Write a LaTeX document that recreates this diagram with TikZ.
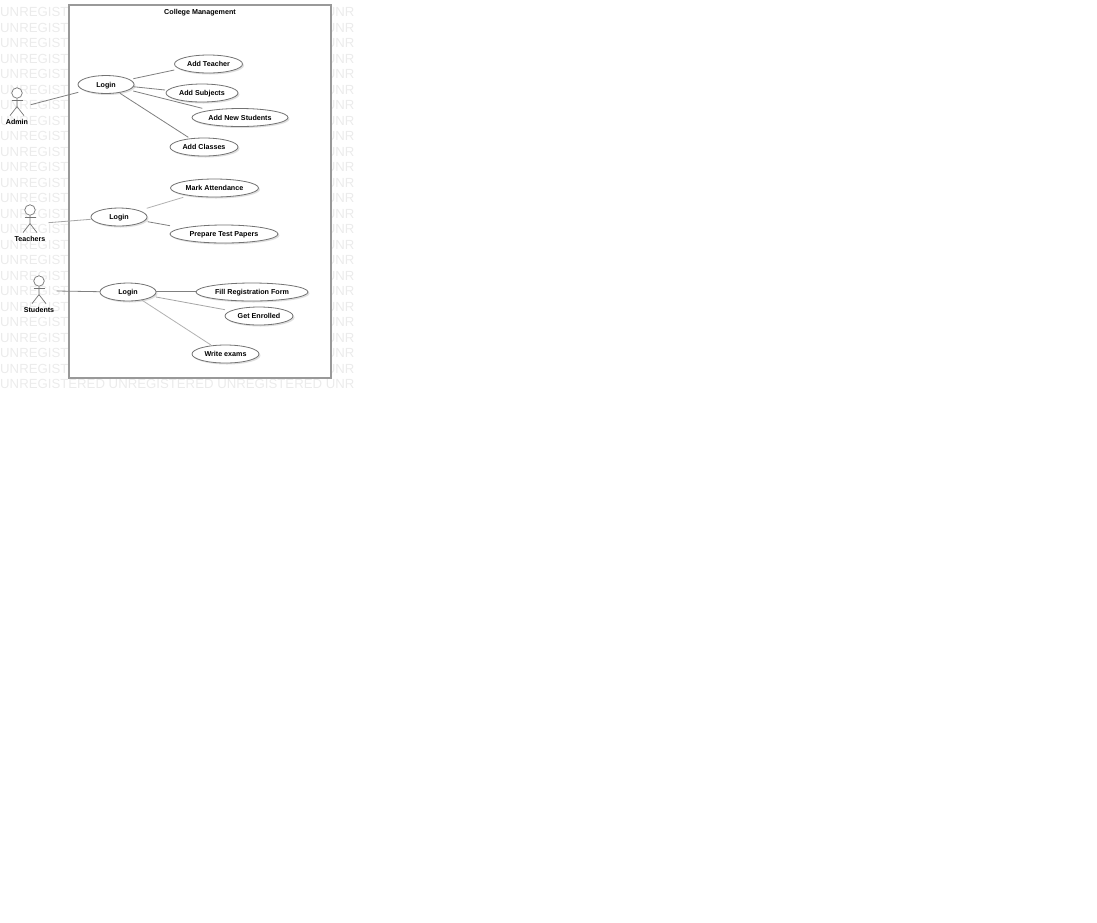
\documentclass[tikz,border=0pt]{standalone}
\usepackage{fontspec}
\setmainfont{Liberation Sans}
\usetikzlibrary{positioning,calc}
\usetikzlibrary{shapes.geometric,shadows}
\tikzset{
  usecase/.style={ellipse,draw=black!55,line width=0.8pt,fill=white,inner sep=0pt,minimum height=18pt,text height=5.2pt,text depth=0pt,font=\fontsize{7.15pt}{9pt}\selectfont\bfseries,drop shadow={shadow xshift=1.5pt,shadow yshift=-1.5pt,opacity=0.25}},
  actorline/.style={draw=black!55,line width=0.7pt},
  actorname/.style={text height=5.2pt,text depth=0pt,font=\fontsize{7.1pt}{9pt}\selectfont\bfseries,inner sep=0pt},
  assoc/.style={draw=black!50,line width=0.8pt},
  wmark/.style={anchor=west,inner sep=0pt,text=black!8,font=\fontsize{13.2pt}{15pt}\selectfont},
}
\newcommand{\actorfig}[4]{
  \node[circle,actorline,fill=white,inner sep=0pt,minimum size=10.5pt] (#1) at (#2,#3) {};
  \draw[actorline] (#1.south) -- ++(0,8) coordinate (#1hip) -- ++(-7,9);
  \draw[actorline] (#1hip) -- ++(7,9);
  \draw[actorline] ($(#1.south)+(-5.5,1.5)$) -- ++(11,0);
  \node[actorname] (#1name) at (#2,#3+29.3) {#4};
}
\begin{document}
\begin{tikzpicture}[x=1pt,y=-1pt]
  \useasboundingbox (0,0) rectangle (1097,922);
  \begin{scope}
    \clip (0,0) rectangle (353,391);
    \foreach \i in {0,...,24}
      \node[wmark] (wm\i) at (0,12+15.5*\i) {UNREGISTERED UNREGISTERED UNREGISTERED UNREGISTERED};
  \end{scope}
  \node[draw=black!40,line width=1.3pt,fill=white,minimum width=262pt,minimum height=373pt,inner sep=0pt] (frame) at (200,191.5) {};
  \node[actorname,font=\fontsize{7.15pt}{9pt}\selectfont\bfseries] (title) at (200,12) {College Management};

  \node[usecase,minimum width=56pt] (login1) at (106,84.5) {Login};
  \node[usecase,minimum width=68pt] (teacher) at (208.5,64) {Add Teacher};
  \node[usecase,minimum width=72pt] (subjects) at (202,93) {Add Subjects};
  \node[usecase,minimum width=96pt] (students) at (240,117.5) {Add New Students};
  \node[usecase,minimum width=68pt] (classes) at (204,147) {Add Classes};

  \node[usecase,minimum width=88pt] (attendance) at (214.5,188) {Mark Attendance};
  \node[usecase,minimum width=56pt] (login2) at (119,217) {Login};
  \node[usecase,minimum width=108pt] (papers) at (224,234) {Prepare Test Papers};

  \node[usecase,minimum width=56pt] (login3) at (128,292) {Login};
  \node[usecase,minimum width=112pt] (regform) at (252,292) {Fill Registration Form};
  \node[usecase,minimum width=68pt] (enrolled) at (259,316) {Get Enrolled};
  \node[usecase,minimum width=67pt] (exams) at (225.5,354) {Write exams};

  \actorfig{admin}{17}{93}{Admin}
  \actorfig{teachers}{30}{210}{Teachers}
  \actorfig{pupils}{39}{281}{Students}

  \draw[assoc] ([shift={(13.7,11.7)}]admin.center) -- ([shift={(-27.7,7.8)}]login1.center);
  \draw[assoc] ([shift={(27.3,-5.8)}]login1.center) -- ([shift={(-34.2,6)}]teacher.center);
  \draw[assoc] ([shift={(27.3,2.2)}]login1.center) -- ([shift={(-37,-3)}]subjects.center);
  \draw[assoc] ([shift={(27.3,6.5)}]login1.center) -- ([shift={(-37.7,-9.2)}]students.center);
  \draw[assoc] ([shift={(14,8.8)}]login1.center) -- ([shift={(-15.7,-9.7)}]classes.center);

  \draw[assoc,draw=black!35] ([shift={(18.3,12.7)}]teachers.center) -- ([shift={(-28.3,2.3)}]login2.center);
  \draw[assoc,draw=black!30] ([shift={(27.7,-8.7)}]login2.center) -- ([shift={(-31.2,9.3)}]attendance.center);
  \draw[assoc] ([shift={(28.7,4.7)}]login2.center) -- ([shift={(-54,-8.3)}]papers.center);

  \draw[assoc] ([shift={(17.7,10)}]pupils.center) -- ([shift={(-28,-0.3)}]login3.center);
  \draw[assoc] ([shift={(27.7,-0.3)}]login3.center) -- ([shift={(-55.3,-0.3)}]regform.center);
  \draw[assoc,draw=black!35] ([shift={(28,5)}]login3.center) -- ([shift={(-34,-6.3)}]enrolled.center);
  \draw[assoc,draw=black!30] ([shift={(13.7,8)}]login3.center) -- ([shift={(-14.5,-9)}]exams.center);
\end{tikzpicture}
\end{document}
